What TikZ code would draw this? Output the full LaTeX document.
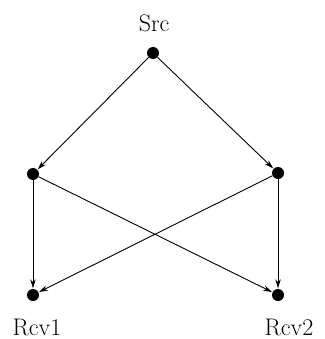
\documentclass[tikz,border=0pt]{standalone}
\usetikzlibrary{arrows.meta}
\begin{document}
\begin{tikzpicture}[x=1pt,y=-1pt,
  dot/.style={circle,fill=black,inner sep=0pt,minimum size=12pt},
  lbl/.style={anchor=base,inner sep=0pt,font=\fontsize{24}{28}\selectfont},
  arr/.style={line width=0.9pt,-{Stealth[length=9pt,width=5.5pt]},shorten >=0.5pt}]
\useasboundingbox (0,0) rectangle (324,339);
\node[dot] (src) at (153,53) {};
\node[dot] (l) at (33,174) {};
\node[dot] (r) at (278,173) {};
\node[dot] (r1) at (33,295) {};
\node[dot] (r2) at (278,295) {};
\node[lbl] (tsrc) at (154,32) {Src};
\node[lbl] (tr1) at (37,335) {Rcv1};
\node[lbl] (tr2) at (289,335) {Rcv2};
\draw[arr] (src) -- (l);
\draw[arr] (src) -- (r);
\draw[arr] (l) -- (r1);
\draw[arr] (l) -- (r2);
\draw[arr] (r) -- (r1);
\draw[arr] (r) -- (r2);
\end{tikzpicture}
\end{document}
